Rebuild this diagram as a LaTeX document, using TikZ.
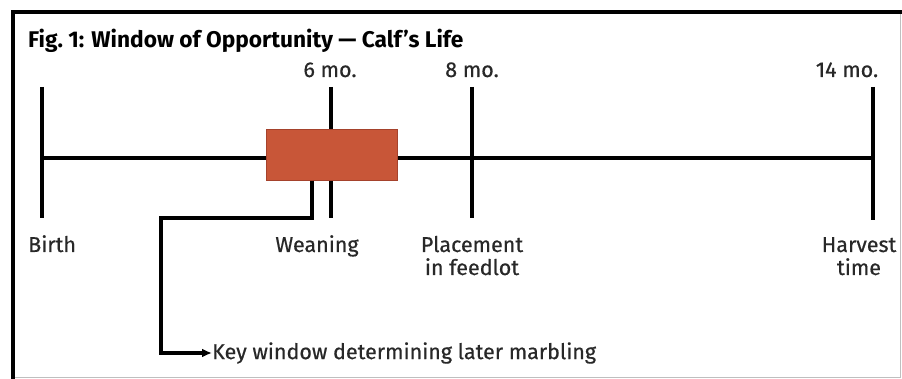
\documentclass[tikz,border=0pt]{standalone}
\usepackage{fontspec}
\setmainfont{Fira Sans}
\newfontfamily\lblfont[FakeBold=0.5]{Fira Sans}
\usetikzlibrary{arrows.meta}
\definecolor{boxred}{RGB}{200,86,56}
\definecolor{boxedge}{RGB}{165,66,44}
\definecolor{labelgray}{RGB}{40,40,40}
\begin{document}
\begin{tikzpicture}[x=1pt,y=-1pt,
  tick/.style={line width=3.1pt,black},
  axis/.style={line width=3.1pt,black},
  lbl/.style={inner sep=0pt,font=\lblfont\fontsize{21.5}{23}\selectfont,text=labelgray,anchor=base},
  connector/.style={line width=3.1pt,black,-{Latex[length=10pt,width=9pt]}},
  windowbox/.style={fill=boxred,draw=boxedge,line width=1.2pt}]
\useasboundingbox (0,0) rectangle (902,379);
\fill[white] (0,0) rectangle (902,379);
% frame
\draw[gray!50,line width=0.8pt] (13,12) rectangle (900.5,377.5);
\draw[line width=3.4pt] (13,379) -- (13,12) -- (902,12);
% title
\node[inner sep=0pt,anchor=base west,font=\fontsize{22.7}{26}\selectfont\bfseries] (title) at (28,48) {Fig.~1: Window of Opportunity — Calf’s Life};
% coordinates
\coordinate (b0) at (42,87);   \coordinate (b1) at (42,218);
\coordinate (w0) at (331,87);  \coordinate (w1) at (331,218);
\coordinate (p0) at (472,87);  \coordinate (p1) at (472,218);
\coordinate (h0) at (873,87);  \coordinate (h1) at (873,220);
\coordinate (a0) at (42,158);  \coordinate (a1) at (873,158);
% axis and ticks
\draw[axis] (a0) -- (a1);
\draw[tick] (b0) -- (b1);
\draw[tick] (w0) -- (w1);
\draw[tick] (p0) -- (p1);
\draw[tick] (h0) -- (h1);
% window box
\node[windowbox,minimum width=131pt,minimum height=51pt,inner sep=0pt,anchor=north west] (win) at (266,129) {};
% labels
\node[lbl] (m6) at (330,77) {6 mo.};
\node[lbl] (m8) at (472,77) {8 mo.};
\node[lbl] (m14) at (847,77) {14 mo.};
\node[lbl,anchor=base west] (birth) at (28,252) {Birth};
\node[lbl] (wean) at (317,252) {Weaning};
\node[lbl,align=center] (place) at (472,275) {Placement\\in feedlot};
\node[lbl,align=center] (harv) at (859,275) {Harvest\\time};
\node[lbl,anchor=west] (key) at (212,353) {Key window determining later marbling};
% connector
\coordinate (c0) at (312,180.6);
\draw[connector] (c0) |- (161,218) |- (key.west);
\end{tikzpicture}
\end{document}
